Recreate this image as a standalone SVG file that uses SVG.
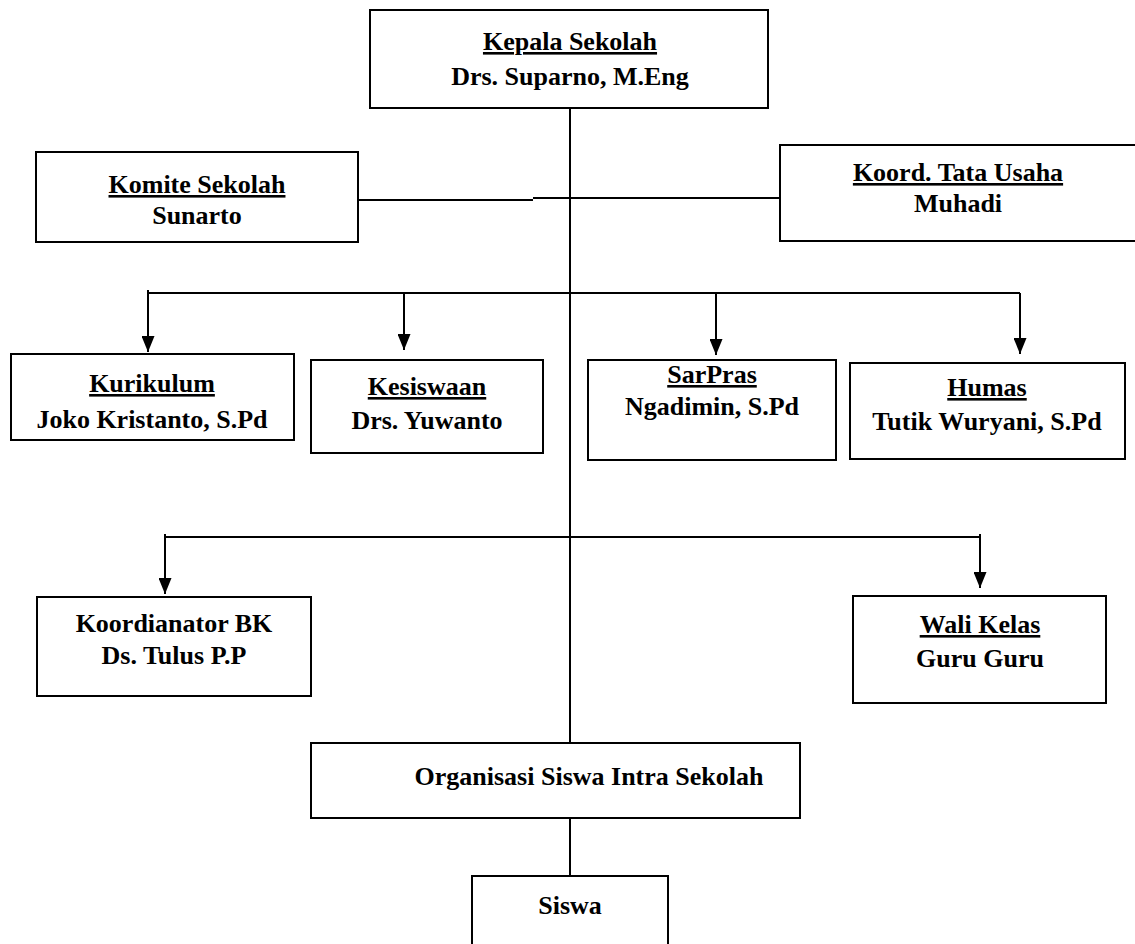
<svg xmlns="http://www.w3.org/2000/svg" width="1135" height="944" viewBox="0 0 1135 944">
<style>
.box{fill:#fff;stroke:#000;stroke-width:2}
.t{font-family:"Liberation Serif","Times New Roman",serif;font-weight:bold;font-size:26px;text-anchor:middle;fill:#000}
.u{text-decoration:underline}
.ln{stroke:#000;stroke-width:2;fill:none}
</style>
<defs>
<marker id="ah" viewBox="0 0 16 13" refX="16" refY="6.5" markerWidth="16" markerHeight="13" markerUnits="userSpaceOnUse" orient="auto">
<path d="M0,0 L16,6.5 L0,13 Z" fill="#000"/>
</marker>
</defs>
<rect width="1135" height="944" fill="#fff"/>
<g id="connectors">
<line class="ln" x1="570" y1="108" x2="570" y2="743"/>
<line class="ln" x1="358" y1="200" x2="533" y2="200"/>
<line class="ln" x1="533" y1="198" x2="780" y2="198"/>
<line class="ln" x1="148" y1="293" x2="1020" y2="293"/>
<path class="ln" d="M148,290 V352" marker-end="url(#ah)"/>
<path class="ln" d="M404,293 V350" marker-end="url(#ah)"/>
<path class="ln" d="M716,293 V355" marker-end="url(#ah)"/>
<path class="ln" d="M1020,293 V354" marker-end="url(#ah)"/>
<line class="ln" x1="165" y1="537" x2="980" y2="537"/>
<path class="ln" d="M165,534 V594" marker-end="url(#ah)"/>
<path class="ln" d="M980,534 V588" marker-end="url(#ah)"/>
<line class="ln" x1="570" y1="818" x2="570" y2="876"/>
</g>
<g id="kepala">
<rect class="box" x="370" y="10" width="398" height="98"/>
<text class="t u" x="570" y="50">Kepala Sekolah</text>
<text class="t" x="570" y="85">Drs. Suparno, M.Eng</text>
</g>
<g id="komite">
<rect class="box" x="36" y="152" width="322" height="90"/>
<text class="t u" x="197" y="193">Komite Sekolah</text>
<text class="t" x="197" y="224">Sunarto</text>
</g>
<g id="tatausaha">
<rect class="box" x="780" y="145" width="365" height="96"/>
<text class="t u" x="958" y="181">Koord. Tata Usaha</text>
<text class="t" x="958" y="212">Muhadi</text>
</g>
<g id="kurikulum">
<rect class="box" x="11" y="354" width="283" height="86"/>
<text class="t u" x="152" y="392">Kurikulum</text>
<text class="t" x="152" y="428">Joko Kristanto, S.Pd</text>
</g>
<g id="kesiswaan">
<rect class="box" x="311" y="360" width="232" height="93"/>
<text class="t u" x="427" y="395">Kesiswaan</text>
<text class="t" x="427" y="429">Drs. Yuwanto</text>
</g>
<g id="sarpras">
<rect class="box" x="588" y="360" width="248" height="100"/>
<text class="t u" x="712" y="383">SarPras</text>
<text class="t" x="712" y="415">Ngadimin, S.Pd</text>
</g>
<g id="humas">
<rect class="box" x="850" y="363" width="275" height="96"/>
<text class="t u" x="987" y="396">Humas</text>
<text class="t" x="987" y="430">Tutik Wuryani, S.Pd</text>
</g>
<g id="bk">
<rect class="box" x="37" y="597" width="274" height="99"/>
<text class="t" x="174" y="632">Koordianator BK</text>
<text class="t" x="174" y="664">Ds. Tulus P.P</text>
</g>
<g id="walikelas">
<rect class="box" x="853" y="596" width="253" height="107"/>
<text class="t u" x="980" y="633">Wali Kelas</text>
<text class="t" x="980" y="667">Guru Guru</text>
</g>
<g id="osis">
<rect class="box" x="311" y="743" width="489" height="75"/>
<text class="t" x="589" y="785">Organisasi Siswa Intra Sekolah</text>
</g>
<g id="siswa">
<rect class="box" x="472" y="876" width="196" height="76"/>
<text class="t" x="570" y="914">Siswa</text>
</g>
</svg>
